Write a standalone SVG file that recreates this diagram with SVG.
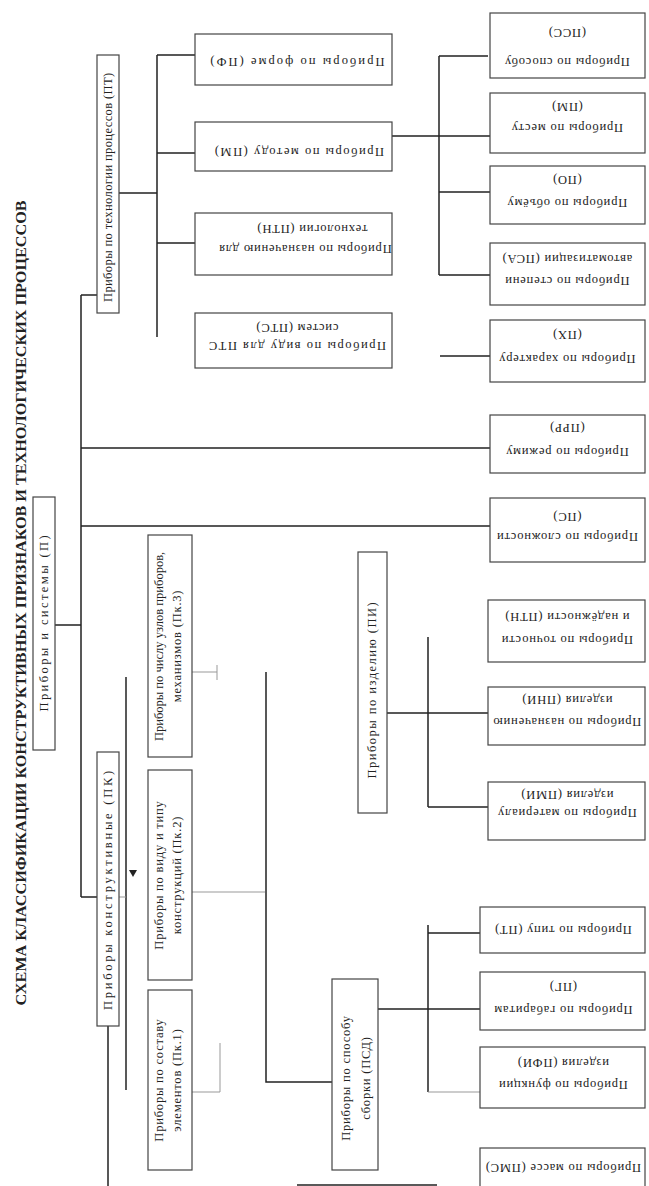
<svg xmlns="http://www.w3.org/2000/svg" width="649" height="1186" viewBox="0 0 649 1186">
<style>
.box{fill:#fff;stroke:#444;stroke-width:1.2}
.t{font-family:"Liberation Serif","Times New Roman",serif;font-size:12.5px;letter-spacing:0.8px;fill:#222;text-anchor:middle}
.title{font-family:"Liberation Serif","Times New Roman",serif;font-size:14px;font-weight:bold;fill:#222;text-anchor:middle}
.c{stroke:#222;stroke-width:1.5;fill:none}
.g{stroke:#999;stroke-width:1;fill:none}
</style>
<rect width="649" height="1186" fill="#fff"/>
<g id="title">
<text class="title" x="22" y="607" transform="rotate(-90 22 603)" textLength="805" lengthAdjust="spacingAndGlyphs">СХЕМА КЛАССИФИКАЦИИ КОНСТРУКТИВНЫХ ПРИЗНАКОВ И ТЕХНОЛОГИЧЕСКИХ ПРОЦЕССОВ</text>
</g>
<g id="connectors">
<path class="c" d="M81 295 V897 M81 295 H97 M55 625 H81 M81 448 H490 M81 526 H490 M81 897 H97"/>
<path class="c" d="M119 193 H157 M157 55 V337 M157 55 H195 M157 153 H195 M157 243 H195"/>
<path class="c" d="M392 136 H490 M439 56 V275 M439 56 H488 M439 192 H490 M439 275 H490 M440 356 H490"/>
<path class="c" d="M387 713 H488 M428 637 V807 M428 807 H488"/>
<path class="c" d="M378 1009 H480 M428 925 V1092 M428 933 H480"/>
<path class="g" d="M428 1092 H480"/>
<path class="c" d="M126 677 V1090"/>
<path class="g" d="M119 897 H126 M192 672 H217 M217 665 V680 M192 892 H265 M192 1092 H220 M220 1043 V1092"/>
<path class="c" d="M266 672 V1082 H332 M108 1026 V1186"/>
<path class="c" d="M297 1185 H437" stroke-width="2.5"/>
<path d="M129 870 L137 870 L133 877 Z" fill="#222"/>
</g>
<g id="root"><rect class="box" x="33" y="497" width="22" height="253"/><text class="t" x="44" y="627" transform="rotate(-90 44 623)" textLength="177">Приборы и системы (П)</text></g>
<g id="PT"><rect class="box" x="97" y="55" width="22" height="258"/><text class="t" x="108" y="191" transform="rotate(-90 108 187)" textLength="230">Приборы по технологии процессов (ПТ)</text></g>
<g id="PK"><rect class="box" x="97" y="752" width="22" height="274"/><text class="t" x="108" y="894" transform="rotate(-90 108 890)" textLength="240">Приборы конструктивные (ПК)</text></g>
<g id="Pk3"><rect class="box" x="148" y="535" width="44" height="222"/><text class="t" x="159" y="650" transform="rotate(-90 159 646)" textLength="190">Приборы по числу узлов приборов,</text><text class="t" x="177" y="650" transform="rotate(-90 177 646)">механизмов (Пк.3)</text></g>
<g id="Pk2"><rect class="box" x="148" y="770" width="44" height="210"/><text class="t" x="159" y="879" transform="rotate(-90 159 875)">Приборы по виду и типу</text><text class="t" x="177" y="879" transform="rotate(-90 177 875)">конструкций (Пк.2)</text></g>
<g id="Pk1"><rect class="box" x="148" y="990" width="44" height="180"/><text class="t" x="159" y="1084" transform="rotate(-90 159 1080)">Приборы по составу</text><text class="t" x="177" y="1084" transform="rotate(-90 177 1080)">элементов (Пк.1)</text></g>
<g id="PI"><rect class="box" x="358" y="552" width="29" height="261"/><text class="t" x="372" y="694" transform="rotate(-90 372 690)" textLength="177">Приборы по изделию (ПИ)</text></g>
<g id="PSD"><rect class="box" x="332" y="979" width="46" height="191"/><text class="t" x="346" y="1082" transform="rotate(-90 346 1078)">Приборы по способу</text><text class="t" x="366" y="1082" transform="rotate(-90 366 1078)">сборки (ПСД)</text></g>
<g id="M1"><rect class="box" x="195" y="34" width="197" height="51"/><text class="t" x="297" y="66" transform="rotate(180 297 62)" textLength="175">Приборы по форме (ПФ)</text></g>
<g id="M2"><rect class="box" x="195" y="122" width="197" height="49"/><text class="t" x="299" y="156" transform="rotate(180 299 152)" textLength="170">Приборы по методу (ПМ)</text></g>
<g id="M3"><rect class="box" x="195" y="213" width="197" height="62"/><text class="t" x="305" y="253" transform="rotate(180 305 249)">Приборы по назначению для</text><text class="t" x="312" y="233" transform="rotate(180 312 229)">технологии (ПТН)</text></g>
<g id="M4"><rect class="box" x="195" y="313" width="197" height="55"/><text class="t" x="297" y="350" transform="rotate(180 297 346)" textLength="178">Приборы по виду для ПТС</text><text class="t" x="297" y="332" transform="rotate(180 297 328)">систем (ПТС)</text></g>
<g id="R1"><rect class="box" x="490" y="13" width="155" height="65"/><text class="t" x="567" y="66" transform="rotate(180 567 62)">Приборы по способу</text><text class="t" x="567" y="37" transform="rotate(180 567 33)">(ПСС)</text></g>
<g id="R2"><rect class="box" x="490" y="93" width="155" height="60"/><text class="t" x="567" y="132" transform="rotate(180 567 128)">Приборы по месту</text><text class="t" x="567" y="111" transform="rotate(180 567 107)">(ПМ)</text></g>
<g id="R3"><rect class="box" x="490" y="166" width="155" height="58"/><text class="t" x="567" y="207" transform="rotate(180 567 203)">Приборы по объёму</text><text class="t" x="567" y="184" transform="rotate(180 567 180)">(ПО)</text></g>
<g id="R4"><rect class="box" x="490" y="243" width="155" height="62"/><text class="t" x="567" y="285" transform="rotate(180 567 281)">Приборы по степени</text><text class="t" x="567" y="263" transform="rotate(180 567 259)">автоматизации (ПСА)</text></g>
<g id="R5"><rect class="box" x="490" y="320" width="155" height="62"/><text class="t" x="567" y="363" transform="rotate(180 567 359)">Приборы по характеру</text><text class="t" x="567" y="339" transform="rotate(180 567 335)">(ПХ)</text></g>
<g id="R6"><rect class="box" x="490" y="415" width="155" height="58"/><text class="t" x="567" y="456" transform="rotate(180 567 452)">Приборы по режиму</text><text class="t" x="567" y="432" transform="rotate(180 567 428)">(ПРР)</text></g>
<g id="R7"><rect class="box" x="490" y="498" width="155" height="64"/><text class="t" x="567" y="541" transform="rotate(180 567 537)">Приборы по сложности</text><text class="t" x="567" y="521" transform="rotate(180 567 517)">(ПС)</text></g>
<g id="P1"><rect class="box" x="488" y="600" width="157" height="62"/><text class="t" x="567" y="644" transform="rotate(180 567 640)">Приборы по точности</text><text class="t" x="567" y="621" transform="rotate(180 567 617)">и надёжности (ПТН)</text></g>
<g id="P2"><rect class="box" x="488" y="687" width="157" height="58"/><text class="t" x="567" y="726" transform="rotate(180 567 722)">Приборы по назначению</text><text class="t" x="567" y="704" transform="rotate(180 567 700)">изделия (ПНИ)</text></g>
<g id="P3"><rect class="box" x="488" y="782" width="157" height="58"/><text class="t" x="567" y="817" transform="rotate(180 567 813)">Приборы по материалу</text><text class="t" x="567" y="799" transform="rotate(180 567 795)">изделия (ПМИ)</text></g>
<g id="Q1"><rect class="box" x="480" y="907" width="165" height="46"/><text class="t" x="563" y="934" transform="rotate(180 563 930)">Приборы по типу (ПТ)</text></g>
<g id="Q2"><rect class="box" x="480" y="972" width="165" height="58"/><text class="t" x="563" y="1014" transform="rotate(180 563 1010)">Приборы по габаритам</text><text class="t" x="563" y="991" transform="rotate(180 563 987)">(ПГ)</text></g>
<g id="Q3"><rect class="box" x="480" y="1047" width="165" height="61"/><text class="t" x="563" y="1089" transform="rotate(180 563 1085)">Приборы по функции</text><text class="t" x="563" y="1067" transform="rotate(180 563 1063)">изделия (ПФИ)</text></g>
<g id="Q4"><rect class="box" x="480" y="1148" width="165" height="42"/><text class="t" x="563" y="1172" transform="rotate(180 563 1168)">Приборы по массе (ПМС)</text></g>
</svg>
